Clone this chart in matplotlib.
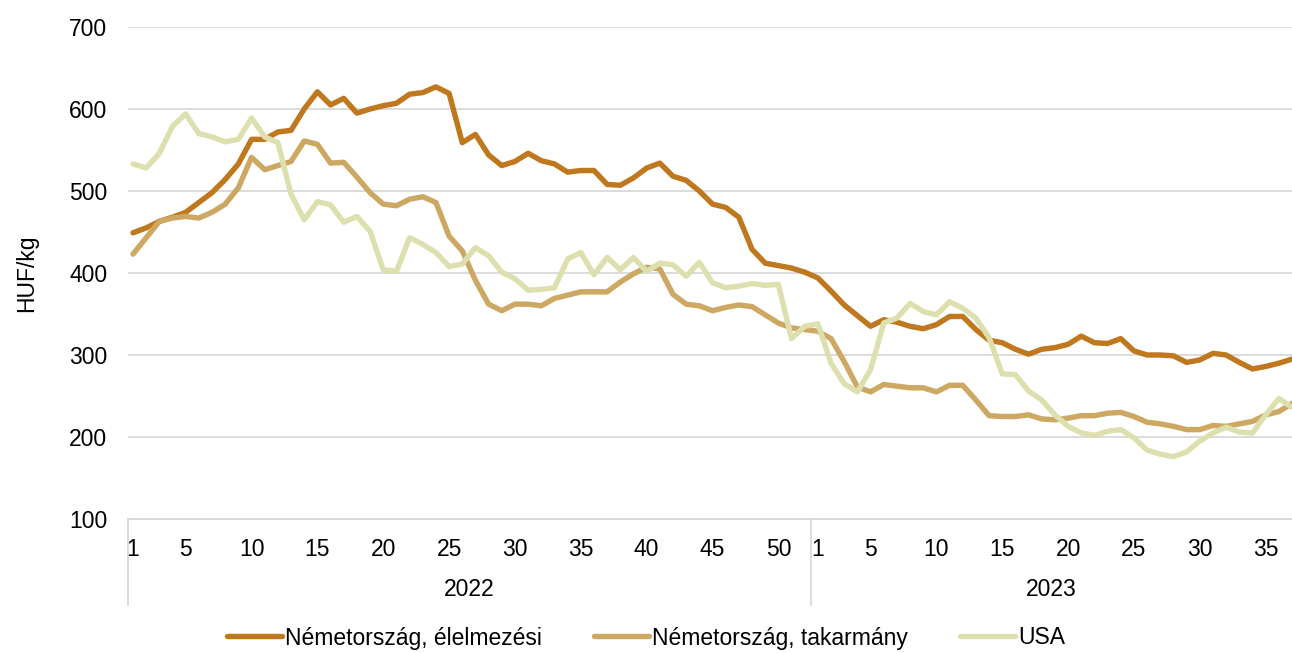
import matplotlib
matplotlib.use("Agg")
import matplotlib.pyplot as plt
import matplotlib.transforms as mtransforms
import numpy as np

plt.rcParams['font.family'] = ['Liberation Sans', 'DejaVu Sans']

years = ["2022", "2023"]
weeks_2022 = list(range(1, 53))
weeks_2023 = list(range(1, 38))

food = [449, 455, 463, 468, 474, 486, 498, 514, 533, 563, 563, 572, 574, 600, 621, 605,
        613, 595, 600, 604, 607, 618, 620, 627, 619, 559, 569, 544, 531, 536, 546, 537,
        533, 523, 525, 525, 508, 507, 516, 528, 534, 518, 513, 500, 484, 480, 468, 429,
        412, 409, 406, 401,
        394, 378, 361, 348, 335, 343, 340, 335, 332, 337, 347, 347, 331, 318, 315, 307,
        301, 307, 309, 313, 323, 315, 314, 320, 305, 300, 300, 299, 291, 294, 302, 300,
        291, 283, 286, 290, 295]

feed = [423, 443, 463, 467, 469, 467, 474, 484, 504, 541, 526, 531, 536, 561, 557, 534,
        535, 517, 498, 484, 482, 490, 493, 486, 445, 427, 391, 362, 354, 362, 362, 360,
        369, 373, 377, 377, 377, 389, 399, 407, 405, 374, 362, 360, 354, 358, 361, 359,
        349, 339, 333, 331,
        329, 320, 292, 261, 255, 264, 262, 260, 260, 255, 263, 263, 245, 226, 225, 225,
        227, 222, 221, 223, 226, 226, 229, 230, 225, 218, 216, 213, 209, 209, 214, 213,
        216, 219, 227, 231, 241]

usa = [533, 528, 546, 579, 594, 570, 566, 560, 563, 589, 566, 559, 496, 465, 487, 483,
       462, 469, 451, 404, 402, 443, 435, 425, 408, 411, 431, 421, 401, 393, 379, 380,
       382, 417, 425, 398, 419, 404, 419, 402, 412, 410, 396, 413, 388, 382, 384, 387,
       385, 386, 320, 335,
       338, 290, 265, 255, 282, 339, 345, 363, 353, 349, 365, 357, 345, 321, 277, 276,
       256, 245, 227, 213, 205, 202, 207, 209, 199, 184, 179, 176, 182, 195, 205, 212,
       206, 205, 227, 247, 236]

labels_series = ["Németország, élelmezési", "Németország, takarmány", "USA"]
colors = ["#C0781E", "#CDA862", "#DDE0AE"]
tick_weeks_2022 = [1, 5, 10, 15, 20, 25, 30, 35, 40, 45, 50]
tick_weeks_2023 = [1, 5, 10, 15, 20, 25, 30, 35]

W, H = 1292, 653
fig = plt.figure(figsize=(W / 100, H / 100), dpi=100)
ax = fig.add_axes([128 / W, 1 - 519 / H, (1292 - 128) / W, (519 - 27) / H])

n22 = len(weeks_2022)
x = np.arange(n22 + len(weeks_2023))

for series, lab, c in zip([food, feed, usa], labels_series, colors):
    ax.plot(x, series, color=c, lw=3.9, label=lab, solid_capstyle='round',
            solid_joinstyle='round', clip_on=False)

ax.set_ylim(100, 700)
ax.set_yticks(range(100, 701, 100))
ax.set_xlim(-0.38, x[-1])
ax.grid(axis='y', color='#D9D9D9', lw=1.3)
ax.set_axisbelow(True)
for s in ['top', 'right', 'left']:
    ax.spines[s].set_visible(False)
ax.spines['bottom'].set_color('#D9D9D9')
ax.spines['bottom'].set_linewidth(1.3)

tick_pos = [weeks_2022.index(w) for w in tick_weeks_2022] + \
           [n22 + weeks_2023.index(w) for w in tick_weeks_2023]
tick_lab = [str(w) for w in tick_weeks_2022] + [str(w) for w in tick_weeks_2023]
ax.set_xticks(tick_pos)
ax.set_xticklabels(tick_lab)
ax.tick_params(axis='x', length=0, pad=14, labelsize=16.5, colors='#000000')
ax.tick_params(axis='y', length=0, pad=15, labelsize=16.5, colors='#000000')

ax.set_ylabel("HUF/kg", fontsize=16.5, labelpad=22)

trans = mtransforms.blended_transform_factory(ax.transData, ax.transAxes)
sep_bottom = -(605 - 519) / (519 - 27)
for xs in [-0.38, n22 - 0.5]:
    ax.plot([xs, xs], [0, sep_bottom], transform=trans, color='#D9D9D9', lw=1.3,
            clip_on=False)
year_y = -(590 - 519) / (519 - 27)
ax.text((-0.38 + n22 - 0.5) / 2, year_y, years[0], transform=trans, ha='center',
        va='center', fontsize=16.5)
ax.text((n22 - 0.5 + x[-1]) / 2, year_y, years[1], transform=trans, ha='center',
        va='center', fontsize=16.5)

fig.legend(loc='center', bbox_to_anchor=(0.5, 1 - 638 / H), ncol=3, frameon=False,
           fontsize=16.5, handlelength=2.4, handletextpad=0.15, columnspacing=2.25)

fig.savefig("out.png", dpi=100)
